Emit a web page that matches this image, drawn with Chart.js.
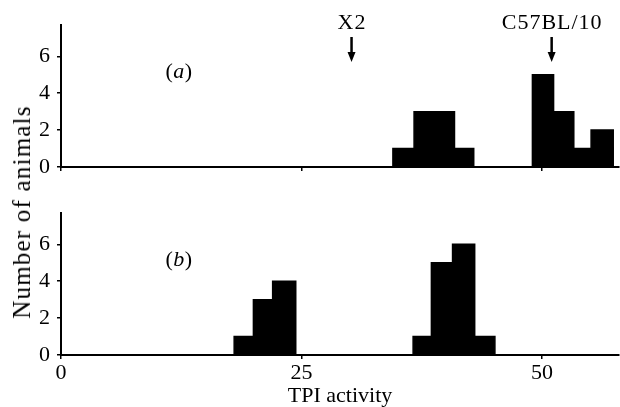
<!DOCTYPE html>
<html>
<head>
<meta charset="utf-8">
<script src="https://cdn.jsdelivr.net/npm/chart.js@4.4.0/dist/chart.umd.min.js"></script>
<style>
  body { margin: 0; background: #fff; }
  #wrap { position: relative; width: 620px; height: 407px; }
  canvas { position: absolute; left: 0; }
  #ytitle {
    position: absolute; left: 22px; top: 212px;
    transform: translate(-50%, -50%) rotate(-90deg);
    white-space: nowrap; color: #000;
    font: 25px "Liberation Serif", "DejaVu Serif", serif;
    letter-spacing: 1.2px;
  }
</style>
</head>
<body>
<div id="wrap">
  <canvas id="chartA" width="620" height="190" style="top:0"></canvas>
  <canvas id="chartB" width="620" height="217" style="top:190px"></canvas>
  <div id="ytitle">Number of animals</div>
</div>
<script>
// histogram bin edges (TPI activity) and number of animals per bin
const edgesA = [0, 34.5, 36.7, 38.8, 40.9, 42.9, 49, 51.2, 53.3, 55.1, 57.4, 58];
const countsA = [0, 1, 3, 3, 1, 0, 5, 3, 1, 2, 0, 0];
const edgesB = [0, 18, 20, 22, 24.4, 36.6, 38.5, 40.7, 43, 45.1, 58];
const countsB = [0, 1, 3, 4, 0, 1, 5, 6, 1, 0, 0];

const xTickValues = [0, 25, 50];
const xTickLabels = ['0', '25', '50'];
const yTickValues = [0, 2, 4, 6];
const yTickLabels = ['0', '2', '4', '6'];

// strain means marked with arrows above panel (a)
const markerLabels = ['X2', 'C57BL/10'];
const markerValues = [30.2, 51];

const SERIF = '"Liberation Serif", "DejaVu Serif", serif';

const annotPlugin = {
  id: 'annot',
  afterDraw(chart, args, opts) {
    const ctx = chart.ctx;
    const xs = chart.scales.x, ys = chart.scales.y;
    const up = '22px ' + SERIF, it = 'italic 22px ' + SERIF;
    ctx.save();
    ctx.fillStyle = '#000';
    ctx.strokeStyle = '#000';
    ctx.textBaseline = 'middle';

    // panel letter, e.g. (a)
    const px = xs.getPixelForValue(12.2), py = ys.getPixelForValue(5.15);
    ctx.font = up;
    const wl = ctx.measureText('(').width, wr = ctx.measureText(')').width;
    ctx.font = it;
    const wm = ctx.measureText(opts.panel).width;
    let sx = px - (wl + wm + wr) / 2;
    ctx.textAlign = 'left';
    ctx.font = up; ctx.fillText('(', sx, py);
    ctx.font = it; ctx.fillText(opts.panel, sx + wl + 0.5, py);
    ctx.font = up; ctx.fillText(')', sx + wl + wm + 1, py);

    if (opts.markers) {
      const top = chart.chartArea.top;
      markerValues.forEach((v, i) => {
        const mx = xs.getPixelForValue(v);
        ctx.font = up;
        ctx.textAlign = 'center';
        ctx.letterSpacing = '1px';
        ctx.fillText(markerLabels[i], mx + 0.5, top - 2);
        ctx.letterSpacing = '0px';
        ctx.lineWidth = 2.5;
        ctx.beginPath();
        ctx.moveTo(mx, top + 12);
        ctx.lineTo(mx, top + 30);
        ctx.stroke();
        ctx.beginPath();
        ctx.moveTo(mx - 4, top + 27);
        ctx.lineTo(mx + 4, top + 27);
        ctx.lineTo(mx, top + 37);
        ctx.closePath();
        ctx.fill();
      });
    }
    ctx.restore();
  }
};

function makeChart(id, edges, counts, panel, topPad, xHeight, bottomAxis) {
  const points = edges.map((x, i) => ({ x: x, y: counts[i] }));
  return new Chart(document.getElementById(id), {
    type: 'line',
    data: {
      datasets: [{
        data: points,
        stepped: 'before',
        fill: 'origin',
        borderColor: '#000',
        backgroundColor: '#000',
        borderWidth: 1.5,
        pointRadius: 0,
        tension: 0
      }]
    },
    options: {
      responsive: false,
      animation: false,
      events: [],
      layout: { padding: { top: topPad, right: 1, left: 0, bottom: 0 } },
      plugins: {
        legend: { display: false },
        tooltip: { enabled: false },
        annot: { panel: panel, markers: !bottomAxis }
      },
      scales: {
        x: {
          type: 'linear',
          min: 0,
          max: 58,
          afterBuildTicks: s => { s.ticks = xTickValues.map(v => ({ value: v })); },
          afterFit: s => { s.height = xHeight; },
          grid: { drawOnChartArea: false, tickLength: 4, color: '#000', lineWidth: 1.5 },
          border: { color: '#000', width: 2 },
          ticks: {
            display: bottomAxis,
            color: '#000',
            padding: 1,
            maxRotation: 0,
            font: { family: SERIF, size: 22 },
            callback: (v, i) => xTickLabels[i]
          },
          title: {
            display: bottomAxis,
            text: 'TPI activity',
            color: '#000',
            font: { family: SERIF, size: 22, lineHeight: 1 },
            padding: { top: 0, bottom: 0 }
          }
        },
        y: {
          min: 0,
          max: 7.7,
          afterBuildTicks: s => { s.ticks = yTickValues.map(v => ({ value: v })); },
          afterFit: s => { s.width = 61; },
          grid: { drawOnChartArea: false, tickLength: 4, color: '#000', lineWidth: 1.5 },
          border: { color: '#000', width: 2 },
          ticks: {
            color: '#000',
            padding: 7,
            font: { family: SERIF, size: 22 },
            callback: (v, i) => yTickLabels[i]
          }
        }
      }
    },
    plugins: [annotPlugin]
  });
}

makeChart('chartA', edgesA, countsA, 'a', 25, 23, false);
makeChart('chartB', edgesB, countsB, 'b', 23, 52, true);
</script>
</body>
</html>
